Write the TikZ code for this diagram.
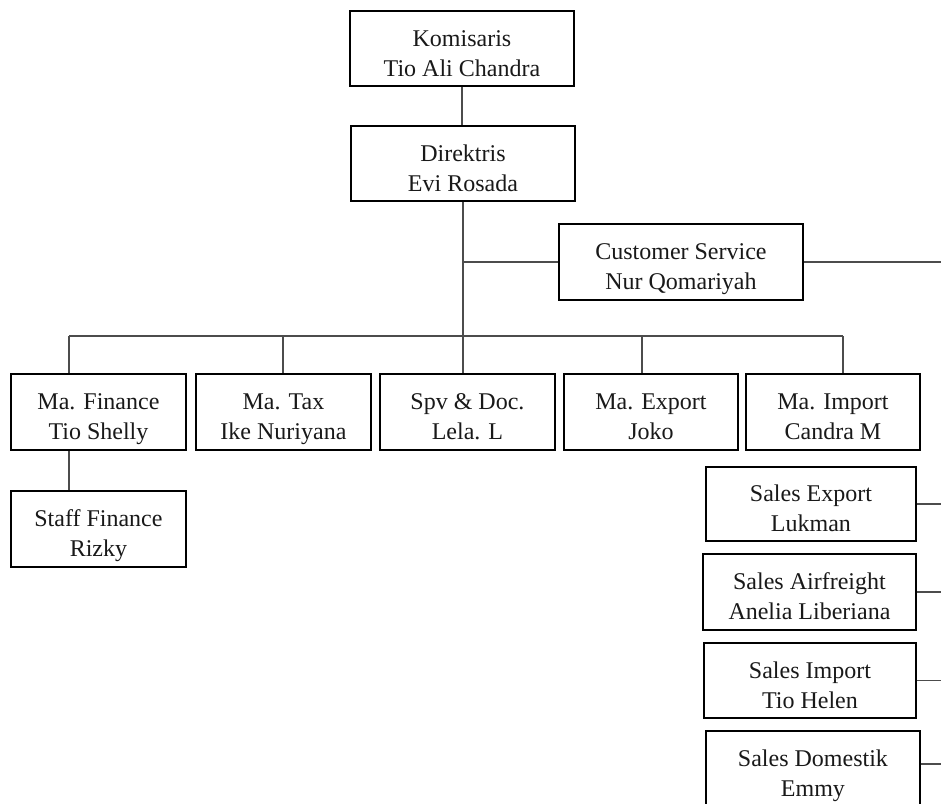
\documentclass[tikz,border=0pt]{standalone}
\usepackage{fontspec}
\setmainfont{Liberation Serif}
\newcommand{\orgtxt}[2]{\rule{0pt}{32pt}#1\\#2\rule[-6pt]{0pt}{6pt}}
\begin{document}
\begin{tikzpicture}[x=1pt,y=-1pt,
  orgbox/.style={draw=black, line width=1.9pt, fill=white, inner sep=0pt, anchor=north west,
    align=center, text=black!90, font=\fontsize{24}{30}\selectfont},
  link/.style={draw=black!70, line width=1.3pt}]
\useasboundingbox (0,0) rectangle (941,803);
\clip (0,0) rectangle (941,803);
\fill[white] (0,0) rectangle (941,803);
\coordinate (edge) at (941,0);
% nodes
\node[orgbox, minimum width=224pt, minimum height=75pt] (kom) at (349,10) {\orgtxt{Komisaris}{Tio Ali Chandra}};
\node[orgbox, minimum width=224pt, minimum height=75pt] (dir) at (350,125) {\orgtxt{Direktris}{Evi Rosada}};
\node[orgbox, minimum width=244pt, minimum height=76pt] (cs) at (558,223) {\orgtxt{Customer Service}{Nur Qomariyah}};
\node[orgbox, minimum width=175pt, minimum height=76pt] (fin) at (10,373) {\orgtxt{Ma. Finance}{Tio Shelly}};
\node[orgbox, minimum width=175pt, minimum height=76pt] (tax) at (195,373) {\orgtxt{Ma. Tax}{Ike Nuriyana}};
\node[orgbox, minimum width=175pt, minimum height=76pt] (spv) at (379,373) {\orgtxt{Spv \& Doc.}{Lela. L}};
\node[orgbox, minimum width=174pt, minimum height=76pt] (exp) at (563,373) {\orgtxt{Ma. Export}{Joko}};
\node[orgbox, minimum width=174pt, minimum height=76pt] (imp) at (745,373) {\orgtxt{Ma. Import}{Candra M}};
\node[orgbox, minimum width=175pt, minimum height=76pt] (staff) at (10,490) {\orgtxt{Staff Finance}{Rizky}};
\node[orgbox, minimum width=210pt, minimum height=74pt] (sexp) at (705,466) {\orgtxt{Sales Export}{Lukman}};
\node[orgbox, minimum width=213pt, minimum height=76pt] (sair) at (702,553) {\orgtxt{Sales Airfreight}{Anelia Liberiana}};
\node[orgbox, minimum width=212pt, minimum height=75pt] (simp) at (703,642) {\orgtxt{Sales Import}{Tio Helen}};
\node[orgbox, minimum width=214pt, minimum height=76pt] (sdom) at (705,730) {\orgtxt{Sales Domestik}{Emmy}};
% bus coordinates
\coordinate (bFin) at (69,336);
\coordinate (bTax) at (283,336);
\coordinate (bExp) at (642,336);
\coordinate (bImp) at (843,336);
% connectors
\draw[link] (kom.south) -- (kom.south |- dir.north);
\draw[link] (dir.south) -- (dir.south |- spv.north);
\draw[link] (cs.west) -- (cs.west -| dir.south);
\draw[link] (cs.east) -- (cs.east -| edge);
\draw[link] (bFin) -- (bImp);
\draw[link] (bFin) -- (bFin |- fin.north);
\draw[link] (bTax) -- (bTax |- tax.north);
\draw[link] (bExp) -- (bExp |- exp.north);
\draw[link] (bImp) -- (bImp |- imp.north);
\draw[link] (bFin |- fin.south) -- (bFin |- staff.north);
\draw[link] (sexp.east) -- (sexp.east -| edge);
\draw[link] (sair.east) -- (sair.east -| edge);
\draw[link] (simp.east) -- (simp.east -| edge);
\draw[link] ([yshift=5pt]sdom.east) -- ([yshift=5pt]sdom.east -| edge);
\end{tikzpicture}
\end{document}
